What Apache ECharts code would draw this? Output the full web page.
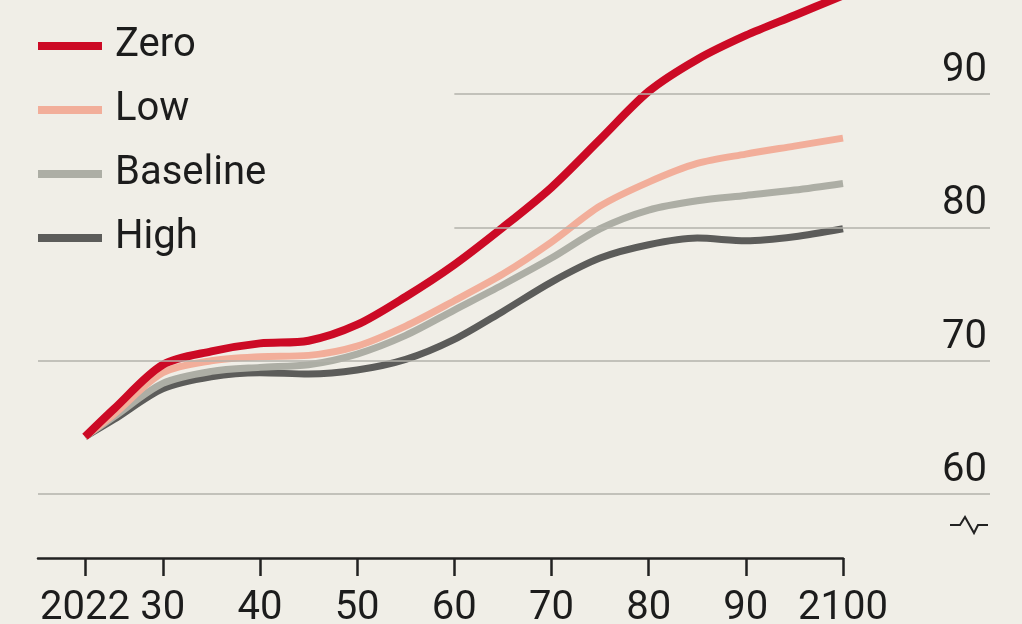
<!DOCTYPE html>
<html>
<head>
<meta charset="utf-8">
<script src="https://cdn.jsdelivr.net/npm/echarts@6/dist/echarts.min.js"></script>
<style>
  html, body { margin: 0; padding: 0; background: #f0eee7; }
  #main { width: 1022px; height: 624px; }
</style>
</head>
<body>
<div id="main"></div>
<script>
// years and scenarios
var years = [2022, 2025, 2030, 2035, 2040, 2045, 2050, 2055, 2060, 2065, 2070, 2075, 2080, 2085, 2090, 2095, 2100];
var zero = [64.3, 66.4, 69.7, 70.7, 71.3, 71.5, 72.7, 74.8, 77.2, 80.0, 83.0, 86.6, 90.2, 92.6, 94.4, 95.9, 97.4];
var low = [64.3, 66.0, 69.1, 70.0, 70.3, 70.4, 71.1, 72.6, 74.5, 76.5, 78.9, 81.6, 83.4, 84.8, 85.5, 86.1, 86.7];
var baseline = [64.3, 65.8, 68.3, 69.2, 69.5, 69.7, 70.5, 71.9, 73.8, 75.7, 77.7, 79.9, 81.3, 82.0, 82.4, 82.8, 83.3];
var high = [64.3, 65.6, 67.9, 68.8, 69.1, 69.0, 69.3, 70.1, 71.6, 73.7, 75.9, 77.7, 78.7, 79.2, 79.0, 79.3, 79.9];

var majorTicks = [2022, 2030, 2040, 2050, 2060, 2070, 2080, 2090, 2100];
var minorTicks = [2025, 2035, 2045, 2055, 2065, 2075, 2085, 2095];
var yLabels = [60, 70, 80, 90];

var font = 'Roboto, "Liberation Sans", sans-serif';
var ink = '#1c1c1c';
var xMin = 2017.16, yMin = 55.2, yMax = 97.06;

function pairs(vals) {
  return years.map(function (y, i) { return [y, vals[i]]; });
}

// grid lines: 60 and 70 full width, 80 and 90 start after the legend
var gridLines = yLabels.map(function (v) {
  return [
    { coord: [v >= 80 ? 2060 : xMin, v] },
    { coord: [2115.12, v], label: { formatter: String(v) } }
  ];
});

var chart = echarts.init(document.getElementById('main'));
chart.setOption({
  backgroundColor: '#f0eee7',
  animation: false,
  textStyle: { fontFamily: font },
  legend: {
    data: ['Zero', 'Low', 'Baseline', 'High'],
    orient: 'vertical',
    left: 38,
    top: 24,
    padding: 0,
    icon: 'rect',
    itemWidth: 64,
    itemHeight: 8,
    itemGap: 20,
    selectedMode: false,
    textStyle: { fontSize: 40, color: ink, lineHeight: 44, padding: [0, 0, 0, 8], fontFamily: font }
  },
  grid: [
    { left: 38, top: 0, width: 805, height: 558, outerBoundsMode: 'none' },
    { left: 38, top: 0, width: 952, height: 558, outerBoundsMode: 'none' }
  ],
  xAxis: [
    {
      type: 'value', gridIndex: 0, min: xMin, max: 2100,
      axisLine: { show: true, onZero: false, lineStyle: { color: '#222', width: 2.5 } },
      axisTick: { show: true, customValues: majorTicks, length: 18, lineStyle: { color: '#222', width: 2.5 } },
      axisLabel: {
        customValues: majorTicks, margin: 31, fontSize: 40, color: ink, fontFamily: font,
        formatter: function (v) { return (v === 2022 || v === 2100) ? String(v) : String(v).slice(2); }
      },
      splitLine: { show: false }
    },
    {
      type: 'value', gridIndex: 1, min: xMin, max: 2115.12, show: false
    },
    {
      // short ticks in between
      type: 'value', gridIndex: 0, min: xMin, max: 2100,
      axisLine: { show: false, onZero: false },
      axisTick: { show: true, customValues: minorTicks, length: 13, lineStyle: { color: '#222', width: 2.5 } },
      axisLabel: { show: false },
      splitLine: { show: false }
    }
  ],
  yAxis: [
    { type: 'value', gridIndex: 0, min: yMin, max: yMax, show: false },
    { type: 'value', gridIndex: 1, min: yMin, max: yMax, show: false }
  ],
  graphic: [{
    type: 'polyline',
    shape: { points: [[950, 525], [960, 525], [965, 517], [974, 533], [978, 525], [988, 525]] },
    style: { stroke: '#222', lineWidth: 2, fill: null }
  }],
  series: [
    {
      name: 'grid', type: 'line', xAxisIndex: 1, yAxisIndex: 1, data: [],
      silent: true,
      markLine: {
        silent: true, symbol: 'none',
        lineStyle: { color: '#b3b2ab', width: 1.5, type: 'solid' },
        label: { position: 'insideEndTop', distance: [3, 3], fontSize: 40, color: ink, fontFamily: font },
        data: gridLines
      }
    },
    {
      name: 'High', type: 'line', data: pairs(high), smooth: 0.3, showSymbol: false,
      color: '#5c5c5a', lineStyle: { width: 7 }
    },
    {
      name: 'Baseline', type: 'line', data: pairs(baseline), smooth: 0.3, showSymbol: false,
      color: '#adaea5', lineStyle: { width: 7 }
    },
    {
      name: 'Low', type: 'line', data: pairs(low), smooth: 0.3, showSymbol: false,
      color: '#f2ae9a', lineStyle: { width: 7 }
    },
    {
      name: 'Zero', type: 'line', data: pairs(zero), smooth: 0.3, showSymbol: false,
      color: '#cc0a25', lineStyle: { width: 8 }
    }
  ]
});
</script>
</body>
</html>
